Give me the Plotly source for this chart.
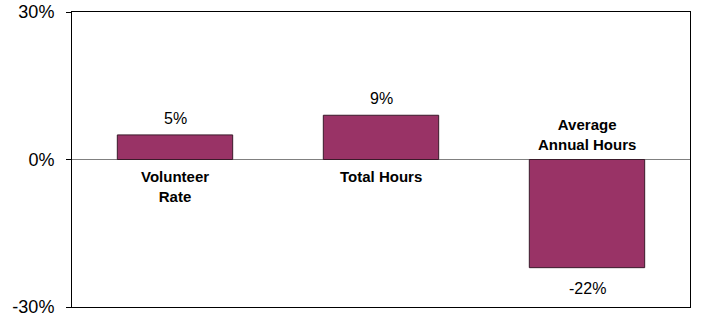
import plotly.graph_objects as go

categories = ["Volunteer Rate", "Total Hours", "Average Annual Hours"]
category_labels = ["Volunteer<br>Rate", "Total Hours", "Average<br>Annual Hours"]
values = [5, 9, -22]
value_labels = ["5%", "9%", "-22%"]
tick_vals = [-30, 0, 30]
tick_text = ["-30%", "0%", "30%"]

FONT = "Liberation Sans, Arial, sans-serif"

fig = go.Figure()
fig.add_trace(go.Bar(
    x=categories, y=values, width=0.56,
    marker=dict(color="#993366", line=dict(color="#3a1a2a", width=1)),
    hoverinfo="skip",
))

annotations = []
for cat, lab, v, vl in zip(categories, category_labels, values, value_labels):
    annotations.append(dict(
        x=cat, y=v, text=vl, showarrow=False, xref="x", yref="y",
        yanchor="bottom" if v >= 0 else "top",
        yshift=6 if v >= 0 else -10,
        font=dict(family=FONT, size=16, color="black"),
    ))
    annotations.append(dict(
        x=cat, y=0, text="<b>" + lab + "</b>", showarrow=False, xref="x", yref="y",
        yanchor="top" if v >= 0 else "bottom",
        yshift=-6 if v >= 0 else 5,
        font=dict(family=FONT, size=15, color="black"),
    ))

fig.update_layout(
    width=702, height=318,
    margin=dict(l=72, r=12, t=12, b=11, autoexpand=False),
    paper_bgcolor="white", plot_bgcolor="white",
    showlegend=False,
    font=dict(family=FONT, color="black"),
    annotations=annotations,
    bargap=0.44,
)
fig.update_xaxes(
    showticklabels=False, showgrid=False, zeroline=False, automargin=False,
    showline=True, linecolor="black", linewidth=1, mirror=True, ticks="",
)
fig.update_yaxes(
    range=[-30, 30], tickvals=tick_vals, ticktext=tick_text, automargin=False,
    showgrid=False, zeroline=True, zerolinecolor="#808080", zerolinewidth=1,
    showline=True, linecolor="black", linewidth=1, mirror=True,
    ticks="outside", ticklen=5, tickcolor="black",
    ticklabeloverflow="allow", ticklabelstandoff=8,
    tickfont=dict(family=FONT, size=18, color="black"),
)

fig.write_html("out.html", config={"displayModeBar": False},
               post_script="document.body.style.margin='0px';")
